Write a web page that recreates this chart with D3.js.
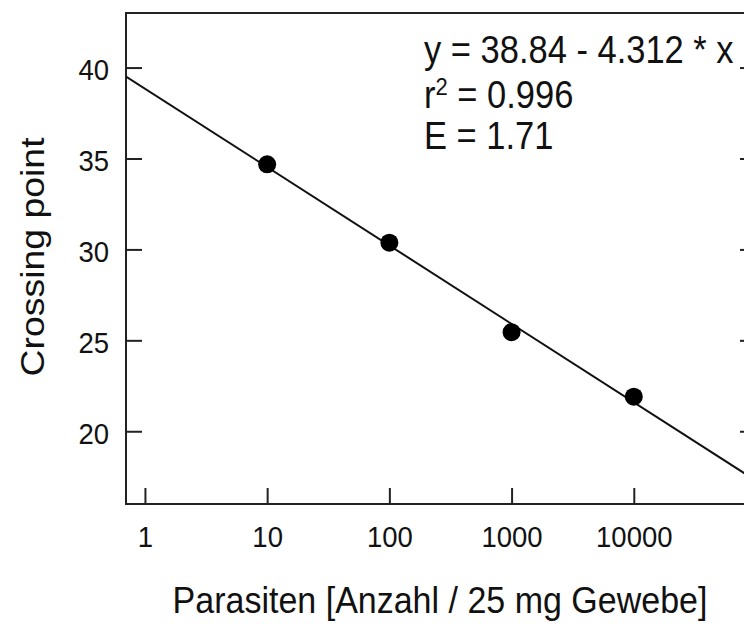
<!DOCTYPE html>
<html>
<head>
<meta charset="utf-8">
<script src="https://cdn.jsdelivr.net/npm/d3@7"></script>
<style>
  body { margin: 0; background: #fff; }
  text { font-family: "Liberation Sans", Arial, sans-serif; fill: #111; }
</style>
</head>
<body>
<svg id="chart" width="744" height="626"></svg>
<script>
// data
let parasiten = [10, 100, 1000, 10000];
let crossingPoint = [34.68, 30.37, 25.45, 21.9];
let xTicks = [1, 10, 100, 1000, 10000];
let yTicks = [20, 25, 30, 35, 40];
let fitCoef = [38.84, -4.312];   // intercept, slope on log10(x)
let fitLabels = ["y = 38.84 - 4.312 * x", "0.996", "E = 1.71"];

let svg = d3.select("#chart");

let plotLeft = 126, plotRight = 756, plotTop = 13, plotBottom = 504;
let stretch = 1.1;   // the original text is a bit taller than wide

let x = d3.scaleLog()
    .domain([Math.pow(10, -0.155), 1e5])
    .range([plotLeft, plotRight]);

let y = d3.scaleLinear()
    .domain([16, 43])
    .range([plotBottom, plotTop]);

// clip for the fit line
svg.append("clipPath").attr("id", "plotClip")
  .append("rect")
    .attr("x", plotLeft).attr("y", plotTop)
    .attr("width", plotRight - plotLeft).attr("height", plotBottom - plotTop);

// frame
svg.append("rect")
    .attr("x", plotLeft).attr("y", plotTop)
    .attr("width", plotRight - plotLeft).attr("height", plotBottom - plotTop)
    .style("fill", "none")
    .style("stroke", "#222")
    .style("stroke-width", 2);

// ticks pointing inward, on all four sides
let tickLen = 16;
let axisBottom = d3.axisBottom(x).tickValues(xTicks).tickSizeInner(-tickLen).tickSizeOuter(0).tickFormat(d3.format("d")).tickPadding(20);
let axisLeft = d3.axisLeft(y).tickValues(yTicks).tickSizeInner(-tickLen).tickSizeOuter(0).tickPadding(17);
let axisRight = d3.axisRight(y).tickValues(yTicks).tickSizeInner(-tickLen).tickSizeOuter(0).tickFormat("");

let gx = svg.append("g").attr("transform", "translate(0," + plotBottom + ")").call(axisBottom);
let gy = svg.append("g").attr("transform", "translate(" + plotLeft + ",0)").call(axisLeft);
let gr = svg.append("g").attr("transform", "translate(" + plotRight + ",0)").call(axisRight);

[gx, gy, gr].forEach(function(g) {
    g.select(".domain").remove();
    g.selectAll(".tick line").style("stroke", "#222").style("stroke-width", 2);
    g.selectAll(".tick text")
        .attr("transform", "scale(1," + stretch + ")")
        .style("font-family", "'Liberation Sans', Arial, sans-serif")
        .style("font-size", "27.5px")
        .style("fill", "#111");
});
gy.selectAll(".tick text").attr("dy", "0.4em");

// regression line
let lineX = x.domain();
svg.append("line")
    .attr("clip-path", "url(#plotClip)")
    .attr("x1", x(lineX[0]))
    .attr("y1", y(fitCoef[0] + fitCoef[1] * Math.log10(lineX[0])))
    .attr("x2", x(lineX[1]))
    .attr("y2", y(fitCoef[0] + fitCoef[1] * Math.log10(lineX[1])))
    .style("stroke", "#111")
    .style("stroke-width", 2);

// points
svg.selectAll("circle.pt")
    .data(parasiten)
    .join("circle")
    .attr("class", "pt")
    .attr("cx", function(d) { return x(d); })
    .attr("cy", function(d, i) { return y(crossingPoint[i]); })
    .attr("r", 9)
    .style("fill", "#000");

// equation text
function place(px, py) {
    return "translate(" + px + "," + py + ") scale(1," + stretch + ")";
}
let ann = svg.append("g").style("font-size", "34.5px");
ann.append("text").attr("transform", place(424, 63)).text(fitLabels[0]);
let r2 = ann.append("text").attr("transform", place(424, 108));
r2.append("tspan").text("r");
r2.append("tspan").attr("dy", -12).style("font-size", "22px").text("2");
r2.append("tspan").attr("dy", 12).text(" = " + fitLabels[1]);
ann.append("text").attr("transform", place(424, 149)).text(fitLabels[2]);

// axis titles
svg.append("text")
    .attr("transform", place(440, 613))
    .attr("text-anchor", "middle")
    .style("font-size", "34px")
    .text("Parasiten [Anzahl / 25 mg Gewebe]");

svg.append("text")
    .attr("transform", "translate(44,257) rotate(-90) scale(" + stretch + ",1)")
    .attr("text-anchor", "middle")
    .style("font-size", "34px")
    .text("Crossing point");
</script>
</body>
</html>
